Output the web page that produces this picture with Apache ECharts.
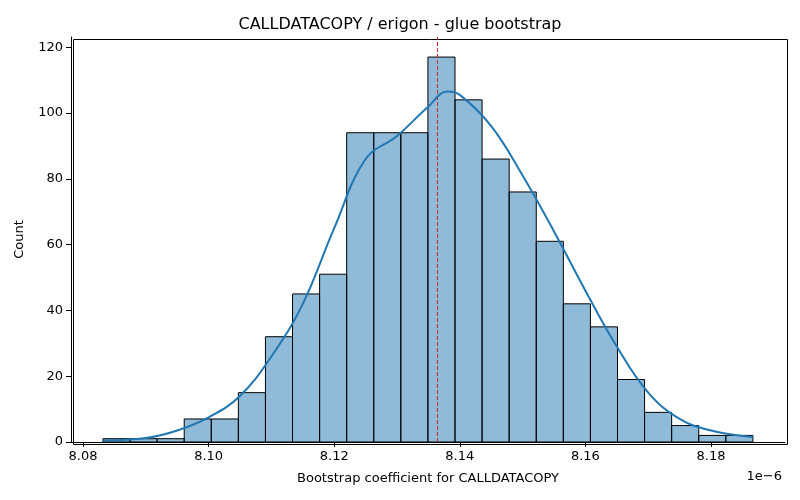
<!DOCTYPE html>
<html><head><meta charset="utf-8">
<script src="https://cdn.jsdelivr.net/npm/echarts@6/dist/echarts.min.js"></script>
<style>body{margin:0}#c{width:800px;height:500px}</style>
</head><body><div id="c"></div>
<script>
// histogram bins (x in units of 1e-6)
const binStart = 8.08318;
const binWidth = 0.004312;
const counts = [1,1,1,7,7,15,32,45,51,94,94,94,117,104,86,76,61,42,35,19,9,5,2,2];
const kdeX = [8.0832,8.09,8.095,8.10,8.105,8.11,8.115,8.12,8.125,8.13,8.135,8.138,8.14,8.145,8.15,8.155,8.16,8.165,8.17,8.175,8.18,8.1867];
const kdeY = [0.5,1.2,3.5,7.5,14,26,42,65,86,93,102,106.5,105.5,96,81,64,46,29,15,7,3.5,1.5];
const meanX = 8.13637;
const xTicks = [8.08,8.10,8.12,8.14,8.16,8.18];

const bins = counts.map((c, i) => [binStart + i*binWidth, binStart + (i+1)*binWidth, c]);

const chart = echarts.init(document.getElementById('c'));
const axisText = {color:'#000', fontSize:13, fontFamily:'DejaVu Sans'};
chart.setOption({
  animation: false,
  title: {text:'CALLDATACOPY / erigon - glue bootstrap', left:'center', top:12,
    textStyle:{fontSize:16, fontWeight:'normal', color:'#000', fontFamily:'DejaVu Sans'}},
  grid: {left:71, right:15, top:37, bottom:58},
  xAxis: {type:'value', min:8.07809, max:8.19178,
    name:'Bootstrap coefficient for CALLDATACOPY', nameLocation:'middle', nameGap:30,
    nameTextStyle: axisText,
    axisLine:{onZero:false, lineStyle:{color:'#000'}},
    axisTick:{show:true, customValues: xTicks, lineStyle:{color:'#000'}},
    axisLabel:{...axisText, customValues: xTicks, formatter: v => v.toFixed(2)},
    splitLine:{show:false}},
  yAxis: {type:'value', min:0, max:123.1, interval:20,
    name:'Count', nameLocation:'middle', nameGap:45, nameTextStyle: axisText,
    axisLine:{show:true, lineStyle:{color:'#000'}},
    axisTick:{show:true, lineStyle:{color:'#000'}},
    axisLabel:{...axisText, showMaxLabel:false},
    splitLine:{show:false}},
  graphic: [
    {type:'rect', left:71, top:37, shape:{width:714, height:405}, style:{fill:'none', stroke:'#000', lineWidth:1}, silent:true},
    {type:'text', right:18, top:470, style:{text:'1e\u22126', fontSize:13, fill:'#000', fontFamily:'DejaVu Sans'}}
  ],
  series: [
    {type:'custom', data: bins,
      renderItem: (params, api) => {
        const p0 = api.coord([api.value(0), api.value(2)]);
        const p1 = api.coord([api.value(1), 0]);
        return {type:'rect', shape:{x:p0[0], y:p0[1], width:p1[0]-p0[0], height:p1[1]-p0[1]},
          style:{fill:'rgba(31,119,180,0.5)', stroke:'#000', lineWidth:1}};
      },
      encode:{x:[0,1], y:2}},
    {type:'line', data: kdeX.map((x,i)=>[x,kdeY[i]]), smooth:0.4, showSymbol:false,
      lineStyle:{color:'#1f77b4', width:2}, z:5},
    {type:'line', data:[], markLine:{symbol:'none', silent:true, label:{show:false},
      lineStyle:{color:'#d62728', type:[4,2], width:1},
      data:[[{coord:[meanX,0]},{coord:[meanX,123.1]}]]}}
  ]
});
</script></body></html>
